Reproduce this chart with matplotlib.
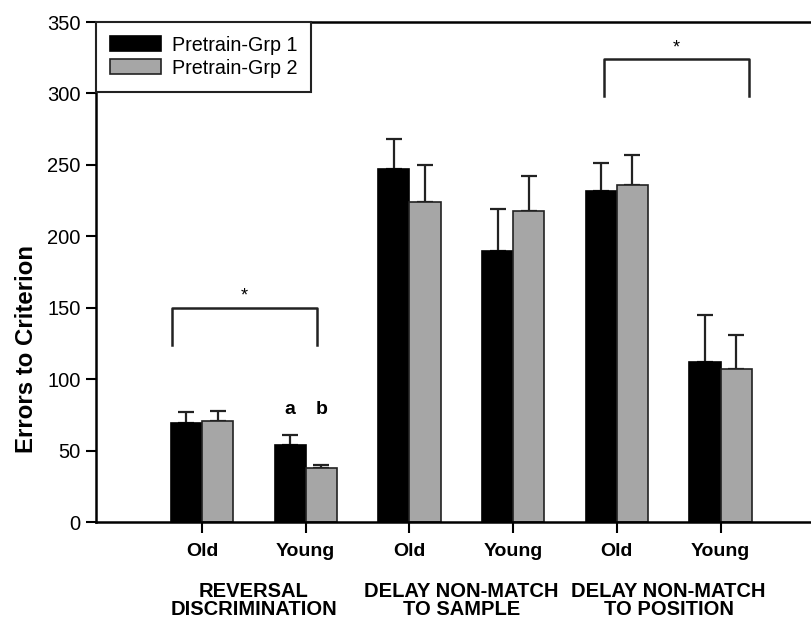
import numpy as np
import matplotlib.pyplot as plt

plt.rcParams['font.family'] = ['Liberation Sans', 'DejaVu Sans']

conditions = ["Old", "Young", "Old", "Young", "Old", "Young"]
tasks = ["REVERSAL\nDISCRIMINATION", "DELAY NON-MATCH\nTO SAMPLE", "DELAY NON-MATCH\nTO POSITION"]
grp1 = [69.5, 54, 247, 190, 232, 112]
grp1_err = [7.5, 7, 21, 29, 19, 33]
grp2 = [71, 38, 224, 218, 236, 107]
grp2_err = [7, 1.8, 26, 24, 21, 24]
series_names = ["Pretrain-Grp 1", "Pretrain-Grp 2"]

fig = plt.figure(figsize=(8.12, 6.21), dpi=100)
ax = fig.add_axes([96 / 812, 99 / 621, 716 / 812, 500 / 621])

x = np.arange(len(conditions))
w = 0.30
gray = "#a6a6a6"
ax.bar(x - w / 2, grp1, w, color="k", edgecolor="k", linewidth=1.2, label=series_names[0], zorder=2)
ax.bar(x + w / 2, grp2, w, color=gray, edgecolor="#222222", linewidth=1.2, label=series_names[1], zorder=2)
ax.errorbar(x - w / 2, grp1, yerr=[np.zeros(len(grp1)), grp1_err], fmt="none",
            ecolor="#222222", elinewidth=1.6, capsize=6, capthick=1.6, zorder=1)
ax.errorbar(x + w / 2, grp2, yerr=[np.zeros(len(grp2)), grp2_err], fmt="none",
            ecolor="#222222", elinewidth=1.6, capsize=6, capthick=1.6, zorder=1)

ax.set_ylim(0, 350)
ax.set_xlim(-1.022, 5.882)
ax.set_yticks(np.arange(0, 351, 50))
ax.set_xticks(x)
ax.set_xticklabels(conditions, fontsize=14, fontweight="bold")
ax.tick_params(axis="y", labelsize=14.5, length=7, width=1.5, direction="out", pad=4)
ax.tick_params(axis="x", length=8, width=1.5, direction="out", pad=7)
for s in ["left", "bottom", "top"]:
    ax.spines[s].set_linewidth(1.8)
ax.spines["right"].set_visible(False)

# task group labels
for i, t in enumerate(tasks):
    ax.text(2 * i + 0.5, -0.157, t, transform=ax.get_xaxis_transform(), ha="center", va="center",
            fontsize=14.5, fontweight="bold", linespacing=0.88)

fig.text(27 / 812, 1 - 349 / 621, "Errors to Criterion", rotation=90, ha="center", va="center",
         fontsize=17.3, fontweight="bold")

# significance brackets
def bracket(x0, x1, ytop, ybot):
    ax.plot([x0, x0, x1, x1], [ybot, ytop, ytop, ybot], color="#222222", lw=1.8, clip_on=False)
    ax.text((x0 + x1) / 2, ytop + 2, "*", ha="center", va="bottom", fontsize=13)

bracket(0 - 0.29, 1 + 0.11, 150, 124)
bracket(4 - 0.12, 5 + 0.27, 324, 298)

ax.text(1 - w / 2, 79, "a", ha="center", va="center", fontsize=14, fontweight="bold")
ax.text(1 + w / 2, 79, "b", ha="center", va="center", fontsize=14, fontweight="bold")

leg = ax.legend(loc="upper left", bbox_to_anchor=(0, 1), borderaxespad=0, fontsize=14.2,
                fancybox=False, edgecolor="#222222", framealpha=1, handlelength=2.6,
                handleheight=0.8, handletextpad=0.55, labelspacing=0.2, borderpad=0.7)
leg.get_frame().set_linewidth(1.5)

fig.savefig("out.png", dpi=100)
